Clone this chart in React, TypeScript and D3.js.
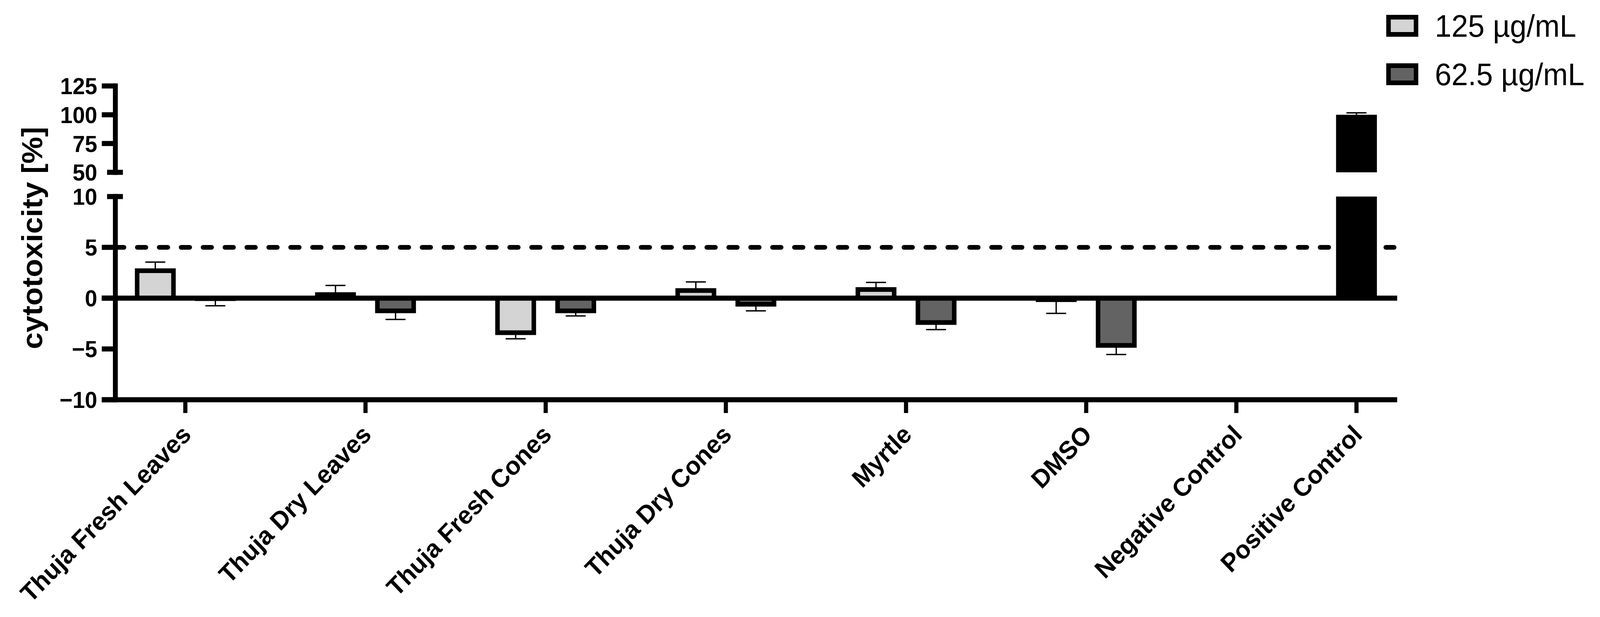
import { scaleLinear } from "d3";

// categories and series
const groups = [
  "Thuja Fresh Leaves",
  "Thuja Dry Leaves",
  "Thuja Fresh Cones",
  "Thuja Dry Cones",
  "Myrtle",
  "DMSO",
  "Negative Control",
  "Positive Control",
];
const seriesNames = ["125 µg/mL", "62.5 µg/mL"];
const seriesFills = ["#d4d4d4", "#636363"];
const solidGroups = ["Positive Control"];

// mean and SD (null = no bar)
const values125 = [2.7, 0.35, -3.4, 0.75, 0.85, -0.15, 0, 100];
const err125 = [0.85, 0.9, 0.6, 0.85, 0.7, 1.35, 0, 1.7];
const values625 = [-0.05, -1.25, -1.25, -0.6, -2.4, -4.65, null, null];
const err625 = [0.7, 0.85, 0.5, 0.65, 0.7, 0.9, null, null];

const threshold = 5;
const lowerTicks = [-10, -5, 0, 5, 10];
const upperTicks = [50, 75, 100, 125];

// drawing space (the reference size); the svg stretches it onto the viewport
const W = 4244;
const H = 1579;
const X0 = 306;
const X1 = 3704;
const FONT = "'Liberation Sans', Arial, sans-serif";
const AXIS_W = 13;

const fmt = (v: number) => (v < 0 ? `\u2212${Math.abs(v)}` : `${v}`);

const App = () => {
  // slot layout: every bar takes one unit, one empty unit between groups
  let cursor = 0;
  const layout = groups.map((name, i) => {
    const n = values625[i] == null ? 1 : 2;
    const start = cursor;
    cursor += n + 1;
    return { name, i, n, start, center: start + n / 2 };
  });
  const totalUnits = cursor - 1;
  const pad = 0.165;

  const x = scaleLinear().domain([-pad, totalUnits + pad]).range([X0, X1]);
  const yLow = scaleLinear().domain([-10, 10]).range([1023, 503]);
  const yUp = scaleLinear().domain([50, 125]).range([441, 220]);
  const unit = x(1) - x(0);

  const bars: {
    key: string;
    cx: number;
    v: number;
    err: number;
    fill: string;
    solid: boolean;
  }[] = [];
  layout.forEach((g) => {
    const solid = solidGroups.includes(g.name);
    const vals = [values125[g.i], values625[g.i]];
    const errs = [err125[g.i], err625[g.i]];
    vals.forEach((v, j) => {
      if (v == null) return;
      const pos = g.n === 1 ? g.center : g.start + 0.5 + j;
      bars.push({
        key: `${g.i}-${j}`,
        cx: x(pos),
        v,
        err: errs[j] ?? 0,
        fill: solid ? "#000" : seriesFills[j],
        solid,
      });
    });
  });

  const barW = unit * 0.68;
  const capW = 53;

  return (
    <div style={{ position: "absolute", left: 0, top: 0 }}>
      <svg
        viewBox={`0 0 ${W} ${H}`}
        preserveAspectRatio="none"
        style={{ display: "block", width: "100vw", height: "100vh", background: "#fff" }}
      >
        {/* 5% threshold */}
        <line
          x1={X0}
          x2={X1 - 6}
          y1={yLow(threshold)}
          y2={yLow(threshold)}
          stroke="#000"
          strokeWidth={12}
          strokeDasharray="23 35.1"
          strokeLinecap="round"
        />

        {/* bars */}
        {bars.map((b) => {
          const vc = Math.max(-10, Math.min(10, b.v));
          const top = yLow(Math.max(0, vc));
          const bot = yLow(Math.min(0, vc));
          const sw = b.solid ? 0 : 12;
          const w = b.solid ? barW : barW - sw;
          return (
            <g key={b.key}>
              <rect
                x={b.cx - w / 2}
                y={top}
                width={w}
                height={bot - top}
                fill={b.fill}
                stroke={b.solid ? "none" : "#000"}
                strokeWidth={sw}
              />
              {b.v > 50 ? (
                <rect
                  x={b.cx - w / 2}
                  y={yUp(Math.min(125, b.v))}
                  width={w}
                  height={yUp(50) - yUp(Math.min(125, b.v))}
                  fill={b.fill}
                />
              ) : null}
            </g>
          );
        })}

        {/* error bars (one-sided, away from zero) */}
        {bars
          .filter((b) => b.err > 0)
          .map((b) => {
            let y1: number;
            let y2: number;
            if (b.v > 50) {
              y1 = yUp(b.v);
              y2 = yUp(b.v + b.err);
            } else {
              const dir = b.v >= 0 ? 1 : -1;
              y1 = yLow(b.v);
              y2 = yLow(b.v + dir * b.err);
            }
            return (
              <g key={`e-${b.key}`} stroke="#000" strokeWidth={3.5}>
                <line x1={b.cx} x2={b.cx} y1={y1} y2={y2} />
                <line x1={b.cx - capW / 2} x2={b.cx + capW / 2} y1={y2} y2={y2} />
              </g>
            );
          })}

        {/* zero line and x axis */}
        <line x1={270} x2={X1 + 2} y1={yLow(0)} y2={yLow(0)} stroke="#000" strokeWidth={AXIS_W} />
        <line x1={270} x2={X1 + 2} y1={yLow(-10)} y2={yLow(-10)} stroke="#000" strokeWidth={AXIS_W} />
        {layout.map((g) => (
          <line
            key={`xt-${g.i}`}
            x1={x(g.center)}
            x2={x(g.center)}
            y1={yLow(-10)}
            y2={yLow(-10) + 34}
            stroke="#000"
            strokeWidth={11}
          />
        ))}

        {/* y axis, lower segment */}
        <line
          x1={X0}
          x2={X0}
          y1={yLow(10)}
          y2={yLow(-10)}
          stroke="#000"
          strokeWidth={AXIS_W}
          strokeLinecap="square"
        />
        {lowerTicks.map((t) =>
          t === 10 ? (
            <line key={`lt-${t}`} x1={284} x2={326} y1={yLow(t)} y2={yLow(t)} stroke="#000" strokeWidth={AXIS_W} />
          ) : (
            <line key={`lt-${t}`} x1={270} x2={X0} y1={yLow(t)} y2={yLow(t)} stroke="#000" strokeWidth={AXIS_W} />
          )
        )}
        {/* y axis, upper segment */}
        <line
          x1={X0}
          x2={X0}
          y1={yUp(125)}
          y2={yUp(50)}
          stroke="#000"
          strokeWidth={AXIS_W}
          strokeLinecap="square"
        />
        {upperTicks.map((t) =>
          t === 50 ? (
            <line key={`ut-${t}`} x1={284} x2={326} y1={yUp(t)} y2={yUp(t)} stroke="#000" strokeWidth={AXIS_W} />
          ) : (
            <line key={`ut-${t}`} x1={270} x2={X0} y1={yUp(t)} y2={yUp(t)} stroke="#000" strokeWidth={AXIS_W} />
          )
        )}

        {/* y tick labels */}
        <g fontFamily={FONT} fontWeight="bold" fontSize={59} textAnchor="end" fill="#000">
          {lowerTicks.map((t) => (
            <text key={`ll-${t}`} x={258} y={yLow(t)} dy="0.36em">
              {fmt(t)}
            </text>
          ))}
          {upperTicks.map((t) => (
            <text key={`ul-${t}`} x={258} y={yUp(t)} dy="0.36em">
              {fmt(t)}
            </text>
          ))}
        </g>

        {/* y axis title */}
        <text
          transform="translate(112, 609) rotate(-90)"
          textAnchor="middle"
          fontFamily={FONT}
          fontWeight="bold"
          fontSize={77}
          fill="#000"
        >
          cytotoxicity [%]
        </text>

        {/* category labels */}
        <g fontFamily={FONT} fontWeight="bold" fontSize={65} textAnchor="end" fill="#000">
          {layout.map((g) => (
            <text key={`xl-${g.i}`} transform={`translate(${x(g.center) + 19}, 1116) rotate(-45)`}>
              {g.name}
            </text>
          ))}
        </g>

        {/* legend */}
        {seriesNames.map((s, j) => (
          <g key={`lg-${j}`} transform={`translate(0, ${j * 124})`}>
            <rect x={3683} y={44} width={73} height={44} fill={seriesFills[j]} stroke="#000" strokeWidth={12} />
            <text x={3806} y={94} fontFamily={FONT} fontSize={79} fill="#000">
              {s}
            </text>
          </g>
        ))}
      </svg>
    </div>
  );
};

export default App;
